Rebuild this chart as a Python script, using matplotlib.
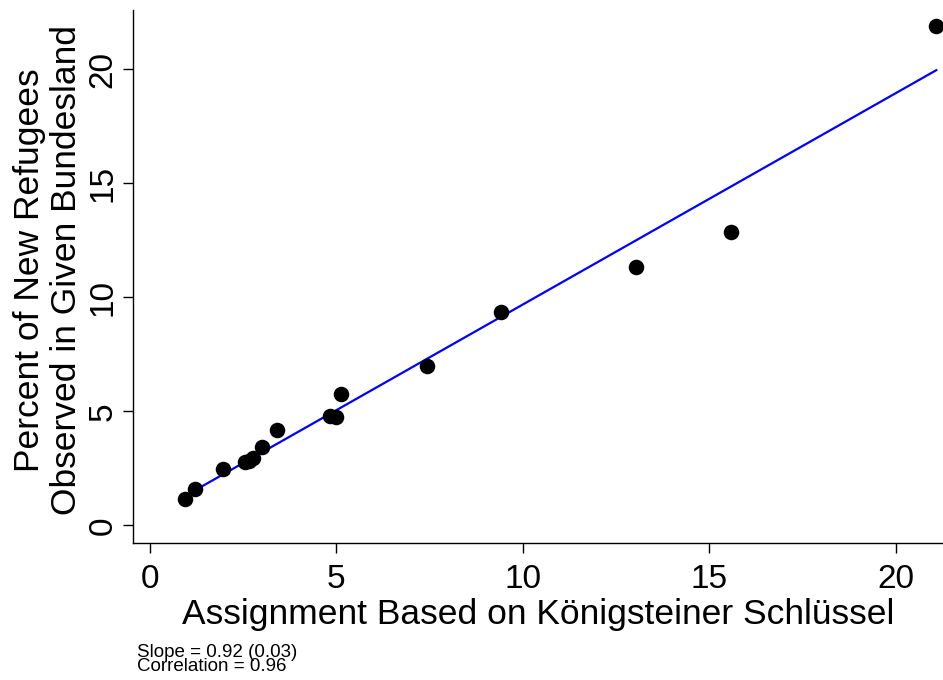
import numpy as np
import matplotlib
matplotlib.use("Agg")
import matplotlib.pyplot as plt

plt.rcParams['font.family'] = ['Liberation Sans', 'DejaVu Sans']

# share of refugees assigned by Königsteiner Schlüssel vs. observed share (percent)
assigned = [0.95, 1.20, 1.97, 2.55, 2.66, 2.76, 3.01, 3.40, 4.82, 4.99, 5.13,
            7.44, 9.41, 13.02, 15.58, 21.08]
observed = [1.15, 1.59, 2.46, 2.77, 2.82, 2.95, 3.46, 4.19, 4.80, 4.77, 5.75,
            7.01, 9.36, 11.35, 12.87, 21.92]

# fitted line as drawn in the reference
fit_slope = 0.927
fit_intercept = 0.42

x_ticks = [0, 5, 10, 15, 20]
y_ticks = [0, 5, 10, 15, 20]
note = "Slope = 0.92 (0.03)\nCorrelation = 0.96"

fig = plt.figure(figsize=(9.43, 6.80), dpi=100)
ax = fig.add_axes([133.3 / 943, 137 / 680, 1 - 133.3 / 943, 533 / 680])

ax.scatter(assigned, observed, s=125, color='black', zorder=3, linewidths=0)
xs = np.array([min(assigned), max(assigned)])
ax.plot(xs, fit_intercept + fit_slope * xs, color='#0000ff', lw=1.6, zorder=2)

ax.set_xlim(-0.445, 21.26)
ax.set_ylim(-0.77, 22.6)
ax.set_xticks(x_ticks)
ax.set_yticks(y_ticks)
ax.tick_params(axis='both', length=7, width=1.0, labelsize=24, color='black')
ax.tick_params(axis='x', pad=8)
ax.tick_params(axis='y', labelrotation=90)
for lab in ax.get_yticklabels():
    lab.set_va('center')

for side in ['top', 'right']:
    ax.spines[side].set_visible(False)
for side in ['left', 'bottom']:
    ax.spines[side].set_linewidth(1.0)

ax.set_xlabel("Assignment Based on Königsteiner Schlüssel", fontsize=25.5)
ax.xaxis.set_label_coords(0.5, -0.103)
ax.set_ylabel("Percent of New Refugees\nObserved in Given Bundesland", fontsize=25.5,
              linespacing=1.15)
ax.yaxis.set_label_coords(-0.062, 0.512)

fig.text(137 / 943, 1 - 675 / 680, note, fontsize=13.5, ha='left', va='bottom',
         linespacing=0.8)

fig.savefig("out.png", dpi=100)
